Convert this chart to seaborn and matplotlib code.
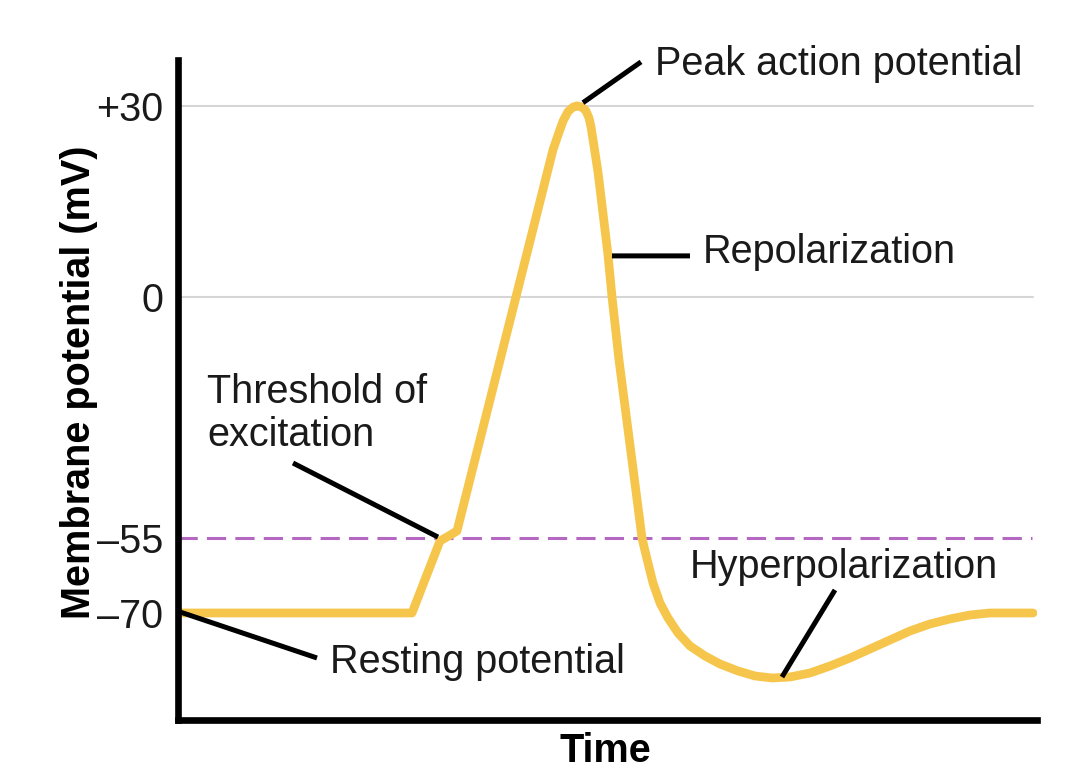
import numpy as np
import matplotlib
matplotlib.use("Agg")
import matplotlib.pyplot as plt
import seaborn as sns
import pandas as pd

# ---- data (time in arbitrary ms, potential in mV) ----
time_ms = [0.00, 2.34, 2.62, 2.71, 2.79, 3.75, 3.80, 3.85, 3.90, 3.95,
           3.99, 4.04, 4.08, 4.11, 4.13, 4.15, 4.20, 4.30, 4.34, 4.41,
           4.64, 4.68, 4.75, 4.82, 4.90, 5.00, 5.12, 5.27, 5.42, 5.60,
           5.77, 5.94, 6.12, 6.32, 6.52, 6.72, 6.92, 7.12, 7.32, 7.52,
           7.72, 7.92, 8.12, 8.55]
membrane_mv = [-70.0, -70.0, -55.6, -54.5, -53.4, 23.1, 25.4, 27.6, 29.1, 29.8,
               30.0, 29.8, 29.2, 28.1, 26.7, 24.7, 19.6, 6.6, 0.0, -14.4,
               -55.0, -58.4, -64.0, -68.0, -71.0, -74.0, -76.6, -78.6, -80.2, -81.6,
               -82.6, -83.0, -82.8, -82.0, -80.6, -79.0, -77.2, -75.4, -73.6, -72.2,
               -71.2, -70.4, -70.0, -70.0]

ytick_values = [30, 0, -55, -70]
ytick_labels = ["+30", "0", "\u201355", "\u201370"]
grid_levels = [30, 0]
threshold_mv = -55

label_peak = "Peak action potential"
label_repol = "Repolarization"
label_thresh = ["Threshold of", "excitation"]
label_rest = "Resting potential"
label_hyper = "Hyperpolarization"

df = pd.DataFrame({"time": time_ms, "mv": membrane_mv})

# ---- style ----
sns.set_theme(style="white")
plt.rcParams["font.family"] = ["Liberation Sans", "DejaVu Sans"]

YELLOW = "#F5C64B"
PURPLE = "#B468C2"
GRID = "#D6D6D6"
TXT = "#1A1A1A"
FS = 28.5

fig = plt.figure(figsize=(10.8, 7.8), dpi=100)
ax = fig.add_axes([178 / 1080, 60 / 780, 859 / 1080, 660 / 780])

# schematic (piecewise-linear) potential axis, as in the reference
mv_knots = [-300.0, -70.0, -55.0, 0.0, 30.0, 300.0]
pos_knots = [-1763.0, -613.0, -538.0, -297.0, -106.0, 1613.0]


def forward(v):
    return np.interp(v, mv_knots, pos_knots)


def inverse(u):
    return np.interp(u, pos_knots, mv_knots)


ax.set_yscale("function", functions=(forward, inverse))

# reference lines
for g in grid_levels:
    ax.axhline(g, xmin=0, xmax=0.9953, color=GRID, lw=1.5, zorder=1)
ax.axhline(threshold_mv, xmin=0, xmax=0.994, color=PURPLE, lw=2.2,
           dashes=(6.3, 3.0), zorder=1)

# action potential curve
sns.lineplot(data=df, x="time", y="mv", sort=False, estimator=None,
             color=YELLOW, lw=6.3, ax=ax, zorder=2,
             solid_capstyle="round", solid_joinstyle="round")

ax.set_xlim(0, 8.59)
ax.set_ylim(-91.4, 37.2)

ax.set_yticks(ytick_values)
ax.set_yticklabels(ytick_labels)
ax.set_xticks([])
ax.tick_params(axis="y", length=0, pad=10.5, labelsize=FS, labelcolor=TXT)

for side in ["top", "right"]:
    ax.spines[side].set_visible(False)
for side in ["left", "bottom"]:
    ax.spines[side].set_color("black")
    ax.spines[side].set_linewidth(4.8)
    ax.spines[side].set_capstyle("projecting")

ax.set_ylabel("Membrane potential (mV)", fontsize=FS, fontweight="bold", color="black")
ax.yaxis.set_label_coords(-0.093, 0.511)
ax.set_xlabel("Time", fontsize=FS, fontweight="bold", color="black")
ax.xaxis.set_label_coords(0.498, -0.018)


def leader(tip, end):
    ax.annotate("", xy=tip, xytext=end,
                arrowprops=dict(arrowstyle="-", color="black", lw=3.6,
                                shrinkA=0, shrinkB=0, capstyle="butt"),
                zorder=4)


def label(x, y, s):
    ax.text(x, y, s, fontsize=FS, color=TXT, ha="left", va="baseline", zorder=5)


# Peak
leader((4.05, 30.5), (4.63, 36.9))
label(4.77, 34.9, label_peak)
# Repolarization
leader((4.34, 6.44), (5.12, 6.44))
label(5.25, 5.34, label_repol)
# Threshold
leader((2.60, -54.8), (1.15, -37.9))
label(0.29, -24.2, label_thresh[0])
label(0.29, -34.1, label_thresh[1])
# Resting
leader((0.02, -69.8), (1.39, -79.0))
label(1.52, -82.0, label_rest)
# Hyperpolarization
leader((6.04, -82.8), (6.57, -65.4))
label(5.12, -63.0, label_hyper)

fig.savefig("out.png", dpi=100)
